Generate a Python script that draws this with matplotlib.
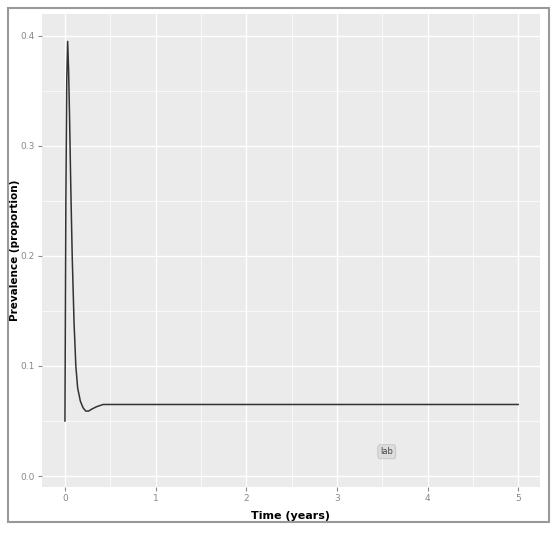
import matplotlib.pyplot as plt
from matplotlib.patches import Rectangle

# ── Data ─────────────────────────────────────────────────────────────────────
time_years = [0.0, 0.005, 0.01, 0.02, 0.03, 0.04, 0.05, 0.065, 0.08, 0.1, 0.12,
              0.14, 0.17, 0.2, 0.23, 0.26, 0.3, 0.35, 0.42, 0.5, 1.0, 2.0, 3.0, 4.0, 5.0]
prevalence = [0.05, 0.15, 0.25, 0.36, 0.395, 0.37, 0.33, 0.26, 0.2, 0.14, 0.1,
              0.08, 0.068, 0.062, 0.059, 0.059, 0.061, 0.063, 0.065, 0.065, 0.065,
              0.065, 0.065, 0.065, 0.065]
x_ticks = [0, 1, 2, 3, 4, 5]
y_ticks = [0.0, 0.1, 0.2, 0.3, 0.4]
label_pos = (3.55, 0.022)

fig = plt.figure(figsize=(5.59, 5.34), dpi=100)
ax = fig.add_axes([0.075, 0.088, 0.891, 0.886])
ax.set_facecolor('#EBEBEB')

ax.plot(time_years, prevalence, color='#333333', linewidth=1.1, zorder=3)

ax.set_xlim(-0.254, 5.24)
ax.set_ylim(-0.01, 0.42)
ax.set_xticks(x_ticks)
ax.set_xticklabels([str(v) for v in x_ticks])
ax.set_yticks(y_ticks)
ax.set_yticklabels([f'{v:.1f}' for v in y_ticks])
ax.set_xticks([v + 0.5 for v in x_ticks[:-1]], minor=True)
ax.set_yticks([v + 0.05 for v in y_ticks[:-1]], minor=True)
ax.grid(which='major', color='white', linewidth=1.0)
ax.grid(which='minor', color='white', linewidth=0.5)
ax.set_axisbelow(True)
for s in ax.spines.values():
    s.set_visible(False)
ax.tick_params(which='major', colors='#888888', labelsize=6.5, length=3,
               pad=2, labelcolor='#888888')
ax.tick_params(which='minor', length=0)

ax.set_ylabel('Prevalence (proportion)', fontsize=7.5, fontweight='bold', labelpad=1)
ax.yaxis.set_label_coords(-0.045, 0.5)
ax.set_xlabel('Time (years)', fontsize=8, fontweight='bold', labelpad=6)

ax.text(*label_pos, 'lab', fontsize=6, ha='center', va='center', color='#444444',
        bbox=dict(boxstyle='round,pad=0.3', fc='#DDDDDD', ec='#BBBBBB', lw=0.5), zorder=4)

# outer frame like the screenshot border
fig.patches.append(Rectangle((8 / 559, 12 / 534), 541 / 559, 514 / 534,
                             transform=fig.transFigure, fill=False,
                             ec='#999999', lw=1.5, zorder=10))

fig.savefig('out.png', dpi=100)
